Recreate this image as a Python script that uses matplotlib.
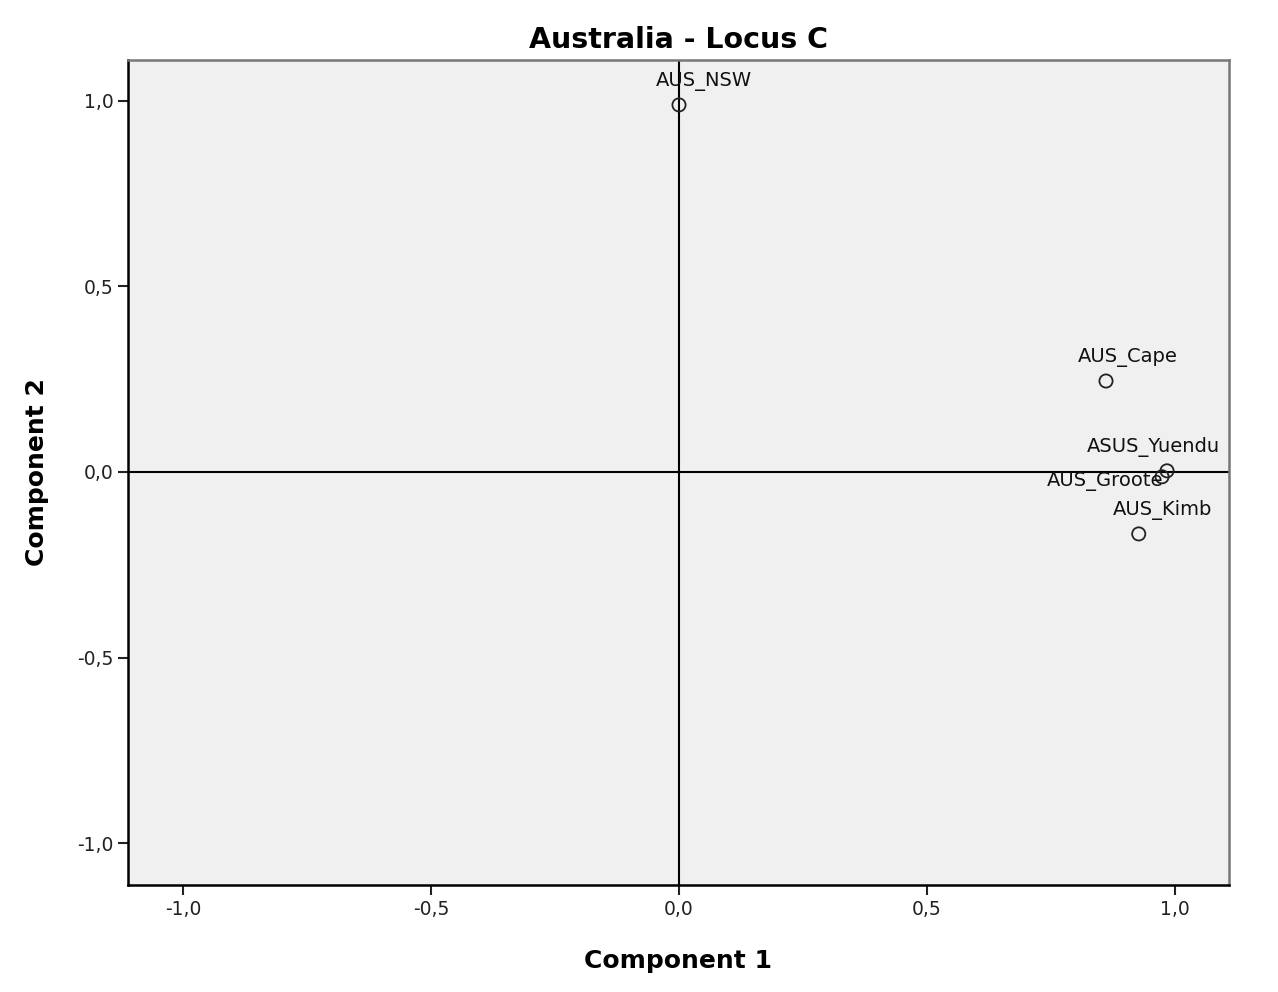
import matplotlib
matplotlib.use("Agg")
import matplotlib.pyplot as plt

labels = ["AUS_NSW", "AUS_Cape", "ASUS_Yuendu", "AUS_Groote", "AUS_Kimb"]
comp1 = [0.0, 0.861, 0.984, 0.974, 0.927]
comp2 = [0.989, 0.245, 0.003, -0.013, -0.167]
ticks = [-1.0, -0.5, 0.0, 0.5, 1.0]
tick_labels = ["-1,0", "-0,5", "0,0", "0,5", "1,0"]

# label offsets in points (dx, dy) and alignment
offsets = {
    "AUS_NSW": (-17, 10, "left"),
    "AUS_Cape": (-20, 10, "left"),
    "ASUS_Yuendu": (-58, 10, "left"),
    "AUS_Groote": (1, -10, "right"),
    "AUS_Kimb": (-19, 10, "left"),
}

fig = plt.figure(figsize=(12.78, 9.92), dpi=100)
ax = fig.add_axes([128/1278, 1-885/992, (1229-128)/1278, (885-60)/992])
ax.set_facecolor("#f0f0f0")

ax.axhline(0, color="black", lw=1.5, zorder=1)
ax.axvline(0, color="black", lw=1.5, zorder=1)

ax.scatter(comp1, comp2, s=90, facecolors="none", edgecolors="#222222", linewidths=1.3, zorder=3)
for lab, x, y in zip(labels, comp1, comp2):
    dx, dy, ha = offsets[lab]
    t = ax.annotate(lab, (x, y), xytext=(dx, dy), textcoords="offset points",
                    ha=ha, va="bottom", fontsize=14, color="#111111",
                    annotation_clip=True, zorder=4)
    t.set_clip_on(True)
    t.set_clip_path(ax.patch)

ax.set_xlim(-1.111, 1.109)
ax.set_ylim(-1.113, 1.110)
ax.set_xticks(ticks)
ax.set_xticklabels(tick_labels)
ax.set_yticks(ticks)
ax.set_yticklabels(tick_labels)
ax.tick_params(direction="out", length=7, width=1.5, labelsize=13.5, colors="#222222")

for s in ["left", "bottom"]:
    ax.spines[s].set_color("black")
    ax.spines[s].set_linewidth(1.8)
for s in ["top", "right"]:
    ax.spines[s].set_color("#777777")
    ax.spines[s].set_linewidth(1.8)

ax.set_title("Australia - Locus C", fontsize=20.5, fontweight="bold", pad=9)
ax.set_xlabel("Component 1", fontsize=18, fontweight="bold", labelpad=22)
ax.set_ylabel("Component 2", fontsize=18, fontweight="bold", labelpad=20)

fig.savefig("out.png", dpi=100, facecolor="white")
